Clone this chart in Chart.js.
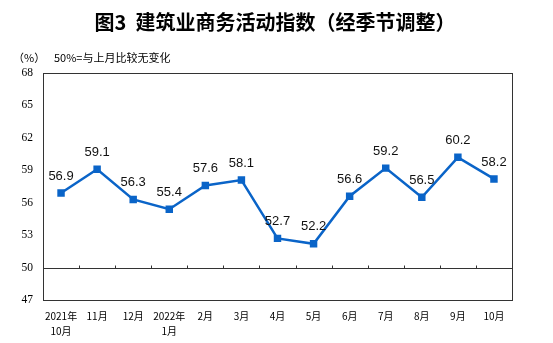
<!DOCTYPE html>
<html>
<head>
<meta charset="utf-8">
<script src="https://cdn.jsdelivr.net/npm/chart.js@4"></script>
<style>
  html, body { margin: 0; padding: 0; background: #fff; }
  #wrap { width: 553px; height: 343px; }
</style>
</head>
<body>
<div id="wrap"><canvas id="myChart" width="553" height="343"></canvas></div>
<script>
// Months along the x axis (two-line labels where the year changes)
const months = [["2021年", "10月"], "11月", "12月", ["2022年", "1月"], "2月", "3月", "4月", "5月", "6月", "7月", "8月", "9月", "10月"];
// Construction business activity index, seasonally adjusted (%)
const activityIndex = [56.9, 59.1, 56.3, 55.4, 57.6, 58.1, 52.7, 52.2, 56.6, 59.2, 56.5, 60.2, 58.2];
const yMin = 47;
const yMax = 68;
const yStep = 3;
const baseline = 50;

const cjk = '"Noto Sans CJK SC", sans-serif';

// Title, unit note, frame, the 50 line with its ticks, and value labels
const decorations = {
  id: "decorations",
  afterDraw(chart) {
    const ctx = chart.ctx;
    const area = chart.chartArea;
    const x = chart.scales.x;
    const y = chart.scales.y;
    ctx.save();

    ctx.fillStyle = "#000";
    ctx.textAlign = "center";
    ctx.textBaseline = "middle";
    ctx.font = "bold 20px " + cjk;
    ctx.fillText("图3  建筑业商务活动指数（经季节调整）", 275, 22);

    ctx.font = "11px " + cjk;
    ctx.textAlign = "left";
    ctx.fillText("（%）", 13, 58);
    ctx.fillText("50%=与上月比较无变化", 54, 58);

    // plot frame
    ctx.strokeStyle = "#333";
    ctx.lineWidth = 1;
    ctx.strokeRect(area.left + 0.5, area.top + 0.5, area.right - area.left, area.bottom - area.top);

    // 50 reference line with category ticks
    const yb = Math.round(y.getPixelForValue(baseline)) + 0.5;
    ctx.beginPath();
    ctx.moveTo(area.left, yb);
    ctx.lineTo(area.right, yb);
    const half = (x.getPixelForValue(1) - x.getPixelForValue(0)) / 2;
    for (let i = 0; i < months.length - 1; i++) {
      const xt = Math.round(x.getPixelForValue(i) + half) + 0.5;
      ctx.moveTo(xt, yb);
      ctx.lineTo(xt, yb - 3);
    }
    ctx.stroke();

    // value labels above each point
    ctx.font = "13px \"Liberation Sans\", Arial, sans-serif";
    ctx.textAlign = "center";
    ctx.fillStyle = "#111";
    const meta = chart.getDatasetMeta(0);
    meta.data.forEach((pt, i) => {
      ctx.fillText(activityIndex[i].toFixed(1), pt.x, pt.y - 17);
    });
    ctx.restore();
  }
};

const config = {
  type: "line",
  data: {
    labels: months,
    datasets: [
      {
        label: "建筑业商务活动指数",
        data: activityIndex,
        borderColor: "#0a64c8",
        backgroundColor: "#0a64c8",
        borderWidth: 2.5,
        pointStyle: "rect",
        pointRadius: 3.5,
        pointHoverRadius: 3.5,
        tension: 0,
      },
    ],
  },
  options: {
    responsive: false,
    animation: false,
    layout: { padding: { top: 73, right: 41, bottom: 0, left: 0 } },
    plugins: {
      legend: { display: false },
      tooltip: { enabled: false },
    },
    scales: {
      x: {
        offset: true,
        grid: { display: false, drawTicks: false },
        border: { display: false },
        ticks: {
          color: "#000",
          font: { family: cjk, size: 10, lineHeight: 1.45 },
          padding: 9,
          maxRotation: 0,
          autoSkip: false,
        },
        afterFit(scale) { scale.height = 43; },
      },
      y: {
        min: yMin,
        max: yMax,
        grid: { display: false, drawTicks: false },
        border: { display: false },
        ticks: {
          stepSize: yStep,
          color: "#000",
          font: { family: '"Liberation Serif", serif', size: 11.5 },
          padding: 10,
        },
        afterFit(scale) { scale.width = 43; },
      },
    },
  },
  plugins: [decorations],
};

const myChart = new Chart(document.getElementById("myChart"), config);
</script>
</body>
</html>
